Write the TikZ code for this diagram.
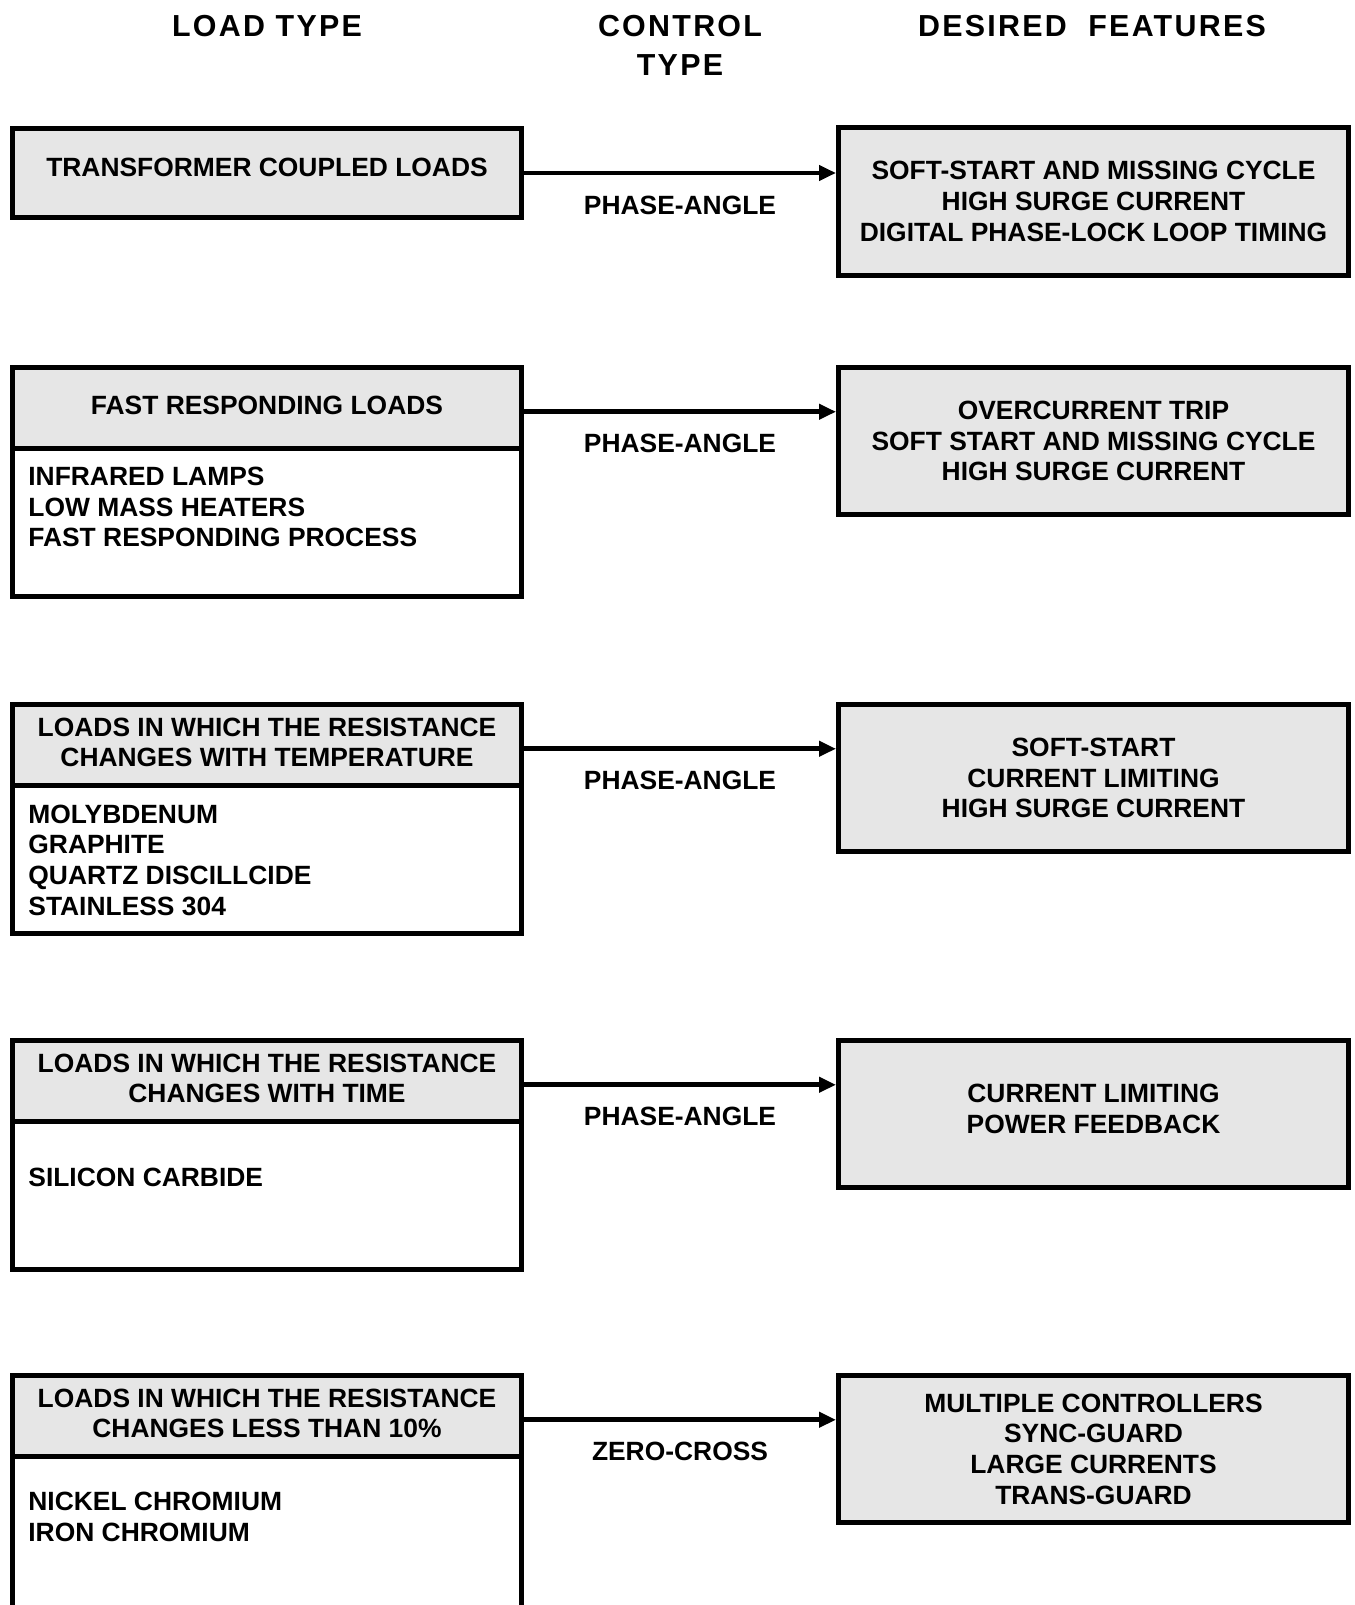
\documentclass[tikz,border=0pt]{standalone}
\usepackage{fontspec}
\setmainfont{Liberation Sans}
\newfontfamily\headfont[LetterSpace=7.5]{Liberation Sans}
\usetikzlibrary{arrows.meta}
\definecolor{boxgray}{RGB}{230,230,230}
\tikzset{
  boxtext/.style={font=\fontsize{13.2pt}{15.35pt}\selectfont\bfseries},
  colhead/.style={font=\fontsize{15.2pt}{19.5pt}\selectfont\headfont\bfseries,align=center,inner sep=0pt},
  loadhdr/.style={draw,line width=2.5pt,fill=boxgray,boxtext,align=center,
    minimum width=254.5pt,minimum height=40.25pt,inner sep=0pt,text depth=2.5pt},
  loadbody/.style={draw,line width=2.5pt,minimum width=254.5pt,minimum height=74.25pt,inner sep=0pt},
  loaditems/.style={boxtext,align=left,anchor=west,inner sep=0pt},
  featbox/.style={draw,line width=2.5pt,fill=boxgray,boxtext,align=center,
    minimum width=255pt,minimum height=73.5pt,inner sep=0pt},
  feed/.style={line width=2.3pt,-{Triangle[length=8.5pt,width=7.5pt]}},
  ctrl/.style={boxtext,midway,yshift=-16pt}
}
\begin{document}
\begin{tikzpicture}[x=0.5pt,y=-0.5pt]
  % 画布按源图像素取：1354x1605px，1px = 0.5pt，y 向下
  \path[use as bounding box] (0,0) rectangle (1354,1605);
  % ---- 栏目标题 ----
  \node[colhead] (hload) at (267,25.6)  {LOAD TYPE};
  \node[colhead] (hctrl) at (680,45)    {CONTROL\\TYPE};
  \node[colhead] (hfeat) at (1092,25.6) {DESIRED\ \ FEATURES};
  % ---- 第 1 行：左框只有一格（外廓 y 126..220），右框 126..277；左框字偏上 6px ----
  \node[loadhdr,minimum height=44.5pt,text depth=6pt] (load1) at (267,173) {TRANSFORMER COUPLED LOADS};
  \node[featbox] (feat1) at (1093.5,201.5)
    {SOFT-START AND MISSING CYCLE\\HIGH SURGE CURRENT\\DIGITAL PHASE-LOCK LOOP TIMING};
  \draw[feed] (load1.east) -- (load1.east -| feat1.west) node[ctrl] {PHASE-ANGLE};
  % ---- 第 2 行：T=365（行距 336px），分隔线 T+83 ----
  \node[loadhdr] (load2) at (267,407.75) {FAST RESPONDING LOADS};
  \node[loadbody] (body2) at (267,522.25) {};
  \node[loaditems] (items2) at (28,507) {INFRARED LAMPS\\LOW MASS HEATERS\\FAST RESPONDING PROCESS};
  \node[featbox] (feat2) at (1093.5,441)
    {OVERCURRENT TRIP\\SOFT START AND MISSING CYCLE\\HIGH SURGE CURRENT};
  \draw[feed] ([yshift=-2pt]load2.east) -- ([yshift=-2pt]load2.east -| feat2.west) node[ctrl] {PHASE-ANGLE};
  % ---- 第 3 行：T=702 ----
  \node[loadhdr] (load3) at (267,744.75) {LOADS IN WHICH THE RESISTANCE\\CHANGES WITH TEMPERATURE};
  \node[loadbody] (body3) at (267,859.25) {};
  \node[loaditems] (items3) at (28,860) {MOLYBDENUM\\GRAPHITE\\QUARTZ DISCILLCIDE\\STAINLESS 304};
  \node[featbox] (feat3) at (1093.5,778)
    {SOFT-START\\CURRENT LIMITING\\HIGH SURGE CURRENT};
  \draw[feed] ([yshift=-2pt]load3.east) -- ([yshift=-2pt]load3.east -| feat3.west) node[ctrl] {PHASE-ANGLE};
  % ---- 第 4 行：T=1038；右框两行字偏上约 5px ----
  \node[loadhdr] (load4) at (267,1080.75) {LOADS IN WHICH THE RESISTANCE\\CHANGES WITH TIME};
  \node[loadbody] (body4) at (267,1195.25) {};
  \node[loaditems] (items4) at (28,1177) {SILICON CARBIDE};
  \node[featbox,text depth=5.5pt] (feat4) at (1093.5,1114)
    {CURRENT LIMITING\\POWER FEEDBACK};
  \draw[feed] ([yshift=-2pt]load4.east) -- ([yshift=-2pt]load4.east -| feat4.west) node[ctrl] {PHASE-ANGLE};
  % ---- 第 5 行：T=1373，左框下沿出画布 ----
  \node[loadhdr] (load5) at (267,1415.75) {LOADS IN WHICH THE RESISTANCE\\CHANGES LESS THAN 10\%};
  \node[loadbody,minimum height=92pt] (body5) at (267,1548) {};
  \node[loaditems] (items5) at (28,1517) {NICKEL CHROMIUM\\IRON CHROMIUM};
  \node[featbox] (feat5) at (1093.5,1449)
    {MULTIPLE CONTROLLERS\\SYNC-GUARD\\LARGE CURRENTS\\TRANS-GUARD};
  \draw[feed] ([yshift=-2pt]load5.east) -- ([yshift=-2pt]load5.east -| feat5.west) node[ctrl] {ZERO-CROSS};
\end{tikzpicture}
\end{document}
